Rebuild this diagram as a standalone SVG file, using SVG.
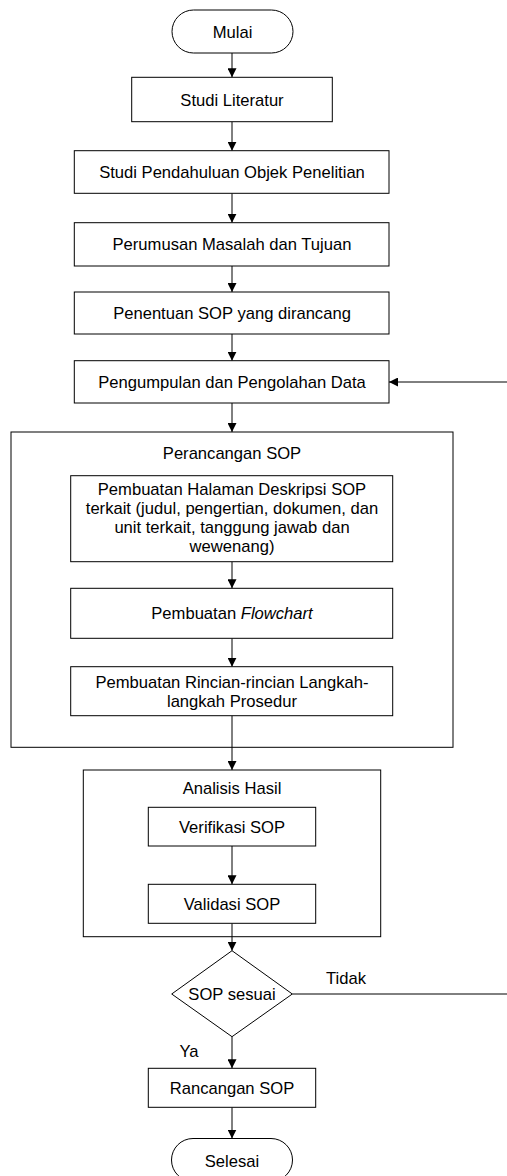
<svg xmlns="http://www.w3.org/2000/svg" width="507" height="1176" viewBox="0 0 507 1176">
<style>
text{font-family:"Liberation Sans",Arial,sans-serif;font-size:16.6px;fill:#000;text-anchor:middle}
.b{fill:#fff;stroke:#000;stroke-width:1}
.c{fill:none;stroke:#000;stroke-width:1}
</style>
<defs>
<marker id="ah" markerWidth="9" markerHeight="9" refX="9" refY="4.5" orient="auto" markerUnits="userSpaceOnUse">
<path d="M0,0 L9,4.5 L0,9 Z" fill="#000"/>
</marker>
</defs>
<rect width="507" height="1176" fill="#fff"/>
<g id="perancangan">
<rect class="b" x="11" y="432" width="442" height="315.3"/>
<text x="232" y="459">Perancangan SOP</text>
</g>
<g id="analisis">
<rect class="b" x="83.3" y="770" width="297.4" height="166.7"/>
<text x="232" y="794.3">Analisis Hasil</text>
</g>
<g id="connectors">
<path class="c" d="M232,53 V77.3" marker-end="url(#ah)"/>
<path class="c" d="M232,121.7 V150.7" marker-end="url(#ah)"/>
<path class="c" d="M232,193.3 V222.7" marker-end="url(#ah)"/>
<path class="c" d="M232,266 V292" marker-end="url(#ah)"/>
<path class="c" d="M232,334 V360.7" marker-end="url(#ah)"/>
<path class="c" d="M232,403 V432" marker-end="url(#ah)"/>
<path class="c" d="M232,561.7 V588.3" marker-end="url(#ah)"/>
<path class="c" d="M232,638.3 V666.7" marker-end="url(#ah)"/>
<path class="c" d="M232,715.7 V747.3"/>
<path class="c" d="M232,747.3 V770" marker-end="url(#ah)"/>
<path class="c" d="M232,846 V884.3" marker-end="url(#ah)"/>
<path class="c" d="M232,923.3 V936.7"/>
<path class="c" d="M232,936.7 V950.7" marker-end="url(#ah)"/>
<path class="c" d="M232,1036.7 V1068.3" marker-end="url(#ah)"/>
<path class="c" d="M232,1107.3 V1138.5" marker-end="url(#ah)"/>
<path class="c" d="M292.3,994 H512 V382 H389" marker-end="url(#ah)"/>
<text x="346" y="984">Tidak</text>
<text x="189" y="1056.7">Ya</text>
</g>
<g id="mulai">
<rect class="b" x="172" y="10" width="121" height="43" rx="21.5" ry="21.5"/>
<text x="232.5" y="37.5">Mulai</text>
</g>
<g id="studi-literatur">
<rect class="b" x="131.7" y="77.3" width="200.6" height="44.4"/>
<text x="232" y="105.5">Studi Literatur</text>
</g>
<g id="studi-pendahuluan">
<rect class="b" x="74.3" y="150.7" width="314.7" height="42.6"/>
<text x="232" y="178">Studi Pendahuluan Objek Penelitian</text>
</g>
<g id="perumusan">
<rect class="b" x="74.3" y="222.7" width="314.7" height="43.3"/>
<text x="232" y="250.3">Perumusan Masalah dan Tujuan</text>
</g>
<g id="penentuan">
<rect class="b" x="74.3" y="292" width="314.7" height="42"/>
<text x="232" y="319">Penentuan SOP yang dirancang</text>
</g>
<g id="pengumpulan">
<rect class="b" x="74.3" y="360.7" width="314.7" height="42.3"/>
<text x="232" y="388">Pengumpulan dan Pengolahan Data</text>
</g>
<g id="deskripsi">
<rect class="b" x="70.7" y="475.7" width="322" height="86"/>
<text x="232" y="495">Pembuatan Halaman Deskripsi SOP</text>
<text x="232" y="514">terkait (judul, pengertian, dokumen, dan</text>
<text x="232" y="533">unit terkait, tanggung jawab dan</text>
<text x="232" y="552">wewenang)</text>
</g>
<g id="flowchart">
<rect class="b" x="70.7" y="588.3" width="322" height="50"/>
<text x="232" y="619">Pembuatan <tspan font-style="italic">Flowchart</tspan></text>
</g>
<g id="rincian">
<rect class="b" x="70.7" y="666.7" width="322" height="49"/>
<text x="232" y="688">Pembuatan Rincian-rincian Langkah-</text>
<text x="232" y="706.7">langkah Prosedur</text>
</g>
<g id="verifikasi">
<rect class="b" x="148.3" y="807.3" width="167.4" height="38.7"/>
<text x="232" y="832.7">Verifikasi SOP</text>
</g>
<g id="validasi">
<rect class="b" x="148.3" y="884.3" width="167.4" height="39"/>
<text x="232" y="909.8">Validasi SOP</text>
</g>
<g id="sop-sesuai">
<path class="b" d="M232,950.7 L292.3,994 L232,1036.7 L171.7,994 Z"/>
<text x="232" y="1000">SOP sesuai</text>
</g>
<g id="rancangan">
<rect class="b" x="148.3" y="1068.3" width="167.4" height="39"/>
<text x="232" y="1093.8">Rancangan SOP</text>
</g>
<g id="selesai">
<rect class="b" x="171.5" y="1138.5" width="121" height="43" rx="21.5" ry="21.5"/>
<text x="232" y="1167">Selesai</text>
</g>
</svg>
